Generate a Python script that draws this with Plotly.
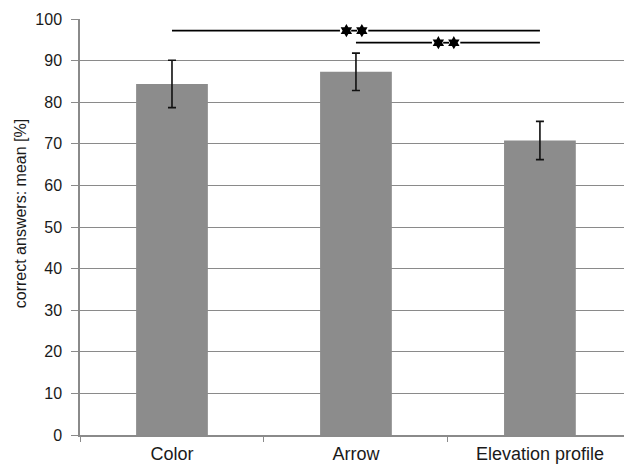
import plotly.graph_objects as go

# Mean percentage of correct answers per visualisation type, with error ranges
categories = ["Color", "Arrow", "Elevation profile"]
means = [84.4, 87.3, 70.8]
errors = [5.7, 4.5, 4.6]

# Significance brackets: (from category index, to category index, height, label position)
sig_from = [0, 1]
sig_to = [2, 2]
sig_y = [97.2, 94.3]
sig_mid = [0.99, 1.49]

y_title = "correct answers: mean [%]"

grey = "#8c8c8c"
axis_grey = "#8a8a8a"
family = "Liberation Sans, Arial, sans-serif"
ytick_font = dict(family=family, size=16, color="#1a1a1a")
xtick_font = dict(family=family, size=18, color="#1a1a1a")

fig = go.Figure()
fig.add_trace(go.Bar(
    x=categories, y=means, width=0.39,
    marker=dict(color=grey, line=dict(width=0)),
    error_y=dict(type="data", array=errors, visible=True,
                 color="#111111", thickness=1.6, width=4),
    showlegend=False,
))

# star half-spacing and gap around the stars, in category units
half = 0.042
gap = 0.035
line_style = dict(color="#000000", width=1.8)
for x0, x1, y, xm in zip(sig_from, sig_to, sig_y, sig_mid):
    segs = [(x0, xm - half - gap), (xm - 0.016, xm + 0.016), (xm + half + gap, x1)]
    for a, b in segs:
        fig.add_trace(go.Scatter(
            x=[a, b], y=[y, y], xaxis="x2", mode="lines",
            line=line_style, showlegend=False, hoverinfo="skip",
        ))
    fig.add_trace(go.Scatter(
        x=[xm - half, xm + half], y=[y, y], xaxis="x2", mode="markers",
        marker=dict(symbol="hexagram", size=10, color="#000000"),
        showlegend=False, hoverinfo="skip",
    ))

# vertical axis title, placed slightly above the plot's middle
fig.add_annotation(
    text=y_title, textangle=-90, showarrow=False,
    xref="paper", yref="paper", x=-0.110, y=0.531,
    xanchor="center", yanchor="middle", font=ytick_font,
)

x_range = [-0.5, 2.457]
fig.update_layout(
    width=624, height=468,
    margin=dict(l=80, r=0, t=19, b=33),
    plot_bgcolor="white", paper_bgcolor="white",
    font=ytick_font,
    xaxis=dict(
        type="category", range=x_range, tickson="boundaries",
        ticks="outside", ticklen=5, tickcolor=axis_grey,
        showline=True, linecolor=axis_grey, linewidth=1.5,
        showgrid=False, tickfont=xtick_font, zeroline=False,
        ticklabelstandoff=2,
    ),
    xaxis2=dict(
        overlaying="x", range=x_range, visible=False, showgrid=False,
    ),
    yaxis=dict(
        range=[0, 100], dtick=10, tick0=0,
        ticks="outside", ticklen=7, tickcolor=axis_grey,
        showline=True, linecolor=axis_grey, linewidth=1.5,
        showgrid=True, gridcolor=axis_grey, gridwidth=1,
        zeroline=False, tickfont=ytick_font, ticklabelstandoff=6,
    ),
    bargap=0.61,
)

fig.write_html("out.html")
